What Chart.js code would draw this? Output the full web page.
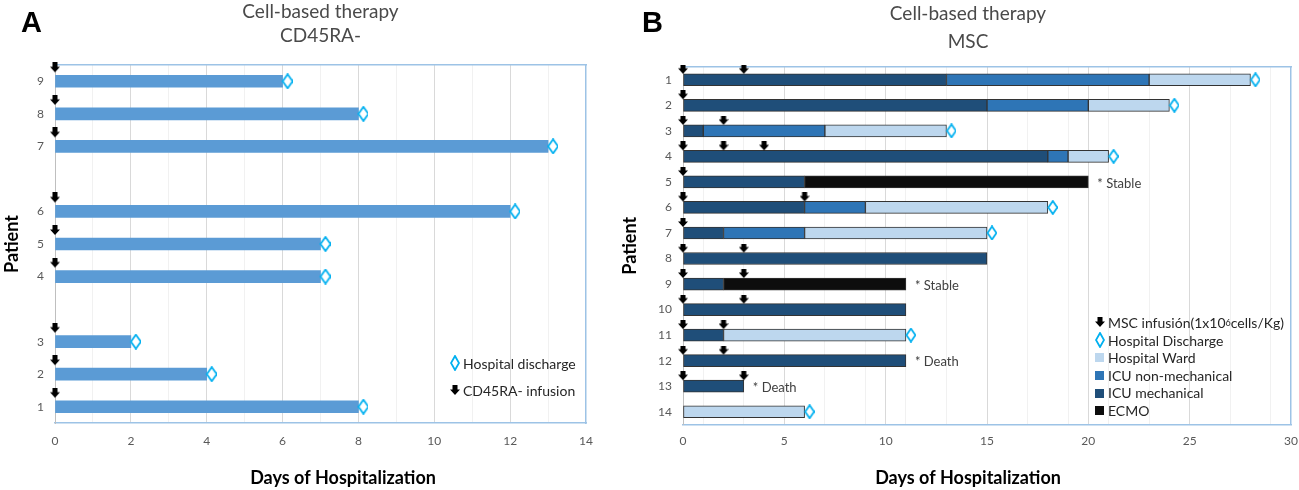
<!DOCTYPE html>
<html lang="en">
<head>
<meta charset="utf-8">
<title>Cell-based therapy · days of hospitalization</title>
<script src="https://cdn.jsdelivr.net/npm/chart.js@4.4.1/dist/chart.umd.min.js"></script>
<style>
  html, body { margin: 0; padding: 0; background: #fff; }
  #fig { position: relative; width: 1299px; height: 490px; overflow: hidden;
         font-family: Lato, 'Noto Sans', sans-serif; }
  #fig canvas { position: absolute; top: 0; }
  #chartA { left: 0; }
  #chartB { left: 615px; }
  .tag { position: absolute; top: 8px; font: bold 29px/29px 'Liberation Sans', Arial, sans-serif; color: #000; }
  .legend { position: absolute; font-size: 14px; color: #262626; }
  .legend .row { display: flex; align-items: center; white-space: nowrap; }
  .legend .mk { width: 13px; flex: none; display: flex; align-items: center; }
  .legend sup { font-size: 9px; line-height: 0; vertical-align: 5px; }
  .sq { display: inline-block; width: 9px; height: 9px; }
</style>
</head>
<body>
<div id="fig">
  <canvas id="chartA" width="686" height="490"></canvas>
  <canvas id="chartB" width="706" height="490"></canvas>

  <div class="tag" style="left:21px">A</div>
  <div class="tag" style="left:642px">B</div>

  <div class="legend" style="left:450px; top:354px">
    <div class="row" style="height:18px">
      <span class="mk"><svg width="10" height="16"><path d="M5 1L9 8L5 15L1 8Z" fill="#fff" stroke="#00B0F0" stroke-width="1.8"/></svg></span>Hospital discharge
    </div>
    <div class="row" style="height:18px; margin-top:9px">
      <span class="mk"><svg width="10" height="11"><path d="M2.5 0H7.5V4.5H10L5 10L0 4.5H2.5Z" fill="#000"/></svg></span>CD45RA- infusion
    </div>
  </div>

  <div class="legend" style="left:1095px; top:314px; line-height:17.6px">
    <div class="row" style="height:17.6px">
      <span class="mk"><svg width="10" height="11"><path d="M2.5 0H7.5V4.5H10L5 10L0 4.5H2.5Z" fill="#000"/></svg></span>MSC infusión(1x10<sup>6</sup>cells/Kg)
    </div>
    <div class="row" style="height:17.6px">
      <span class="mk"><svg width="10" height="16"><path d="M5 1L9 8L5 15L1 8Z" fill="#fff" stroke="#00B0F0" stroke-width="1.8"/></svg></span>Hospital Discharge
    </div>
    <div class="row" style="height:17.6px"><span class="mk"><span class="sq" style="background:#BDD7EE"></span></span>Hospital Ward</div>
    <div class="row" style="height:17.6px"><span class="mk"><span class="sq" style="background:#2E75B6"></span></span>ICU non-mechanical</div>
    <div class="row" style="height:17.6px"><span class="mk"><span class="sq" style="background:#1F4E79"></span></span>ICU mechanical</div>
    <div class="row" style="height:17.6px"><span class="mk"><span class="sq" style="background:#0D0D0D"></span></span>ECMO</div>
  </div>
</div>

<script>
  /* ---------- data: panel A (CD45RA-) ------------------------ */
  const A_ROWS      = ['9', '8', '7', '', '6', '5', '4', '', '3', '2', '1'];
  const A_PATIENTS  = ['9', '8', '7', '6', '5', '4', '3', '2', '1'];
  const A_STAY      = [6, 8, 13, 12, 7, 7, 2, 4, 8];
  const A_INFUSION  = [0, 0, 0, 0, 0, 0, 0, 0, 0];
  const A_DISCHARGE = [6, 8, 13, 12, 7, 7, 2, 4, 8];
  const A_X_LABELS  = [0, 2, 4, 6, 8, 10, 12, 14];

  /* ---------- data: panel B (MSC) ---------------------------- */
  const B_PATIENTS    = ['1', '2', '3', '4', '5', '6', '7', '8', '9', '10', '11', '12', '13', '14'];
  const B_ICU_MECH    = [13, 15, 1, 18, 6, 6, 2, 15, 2, 11, 2, 11, 3, null];
  const B_ICU_NONMECH = [10, 5, 6, 1, null, 3, 4, null, null, null, null, null, null, null];
  const B_WARD        = [5, 4, 6, 2, null, 9, 9, null, null, null, 9, null, null, 6];
  const B_ECMO        = [null, null, null, null, 14, null, null, null, 9, null, null, null, null, null];
  const B_INFUSIONS   = [[0, 3], [0], [0, 2], [0, 2, 4], [0], [0, 6], [0], [0, 3], [0, 3], [0, 3], [0, 2], [0, 2], [0, 3], []];
  const B_DISCHARGE   = [28, 24, 13, 21, null, 18, 15, null, null, null, 11, null, null, 6];
  const B_OUTCOME     = [null, null, null, null, '* Stable', null, null, null, '* Stable', null, null, '* Death', '* Death', null];
  const B_X_LABELS    = [0, 5, 10, 15, 20, 25, 30];

  /* ---------- palette ---------------------------------------- */
  const INK        = '#000000';
  const CYAN       = '#00B0F0';
  const BAR_A      = '#5B9BD5';
  const MECH       = '#1F4E79';
  const NONMECH    = '#2E75B6';
  const WARD       = '#BDD7EE';
  const ECMO       = '#0D0D0D';
  const FRAME      = '#9DC3E6';
  const AXIS       = '#BFBFBF';
  const GRID       = '#D9D9D9';
  const GRID_MINOR = '#F1F1F1';
  const TEXT       = '#595959';
  const TITLE      = '#4A4A4A';
  const NONE       = 'rgba(0,0,0,0)';

  Chart.defaults.font.family = "Lato, 'Noto Sans', sans-serif";
  Chart.defaults.color = TEXT;

  /* ---------- marker images ---------------------------------- */
  // down arrow sitting above the bar: tip ends `tip` px below image top
  function arrowImage(height, tip) {
    const c = document.createElement('canvas');
    c.width = 10; c.height = height;
    const g = c.getContext('2d');
    g.fillStyle = INK;
    g.beginPath();
    g.moveTo(2.5, 0); g.lineTo(7.5, 0); g.lineTo(7.5, tip - 5.5); g.lineTo(10, tip - 5.5);
    g.lineTo(5, tip); g.lineTo(0, tip - 5.5); g.lineTo(2.5, tip - 5.5);
    g.closePath(); g.fill();
    return c;
  }
  // hollow tall diamond just to the right of the bar end
  function diamondImage(w, h) {
    const c = document.createElement('canvas');
    c.width = 20; c.height = h + 2;
    const g = c.getContext('2d');
    const cx = 15, cy = (h + 2) / 2;
    g.fillStyle = '#fff';
    g.strokeStyle = CYAN;
    g.lineWidth = 1.8;
    g.beginPath();
    g.moveTo(cx, cy - h / 2); g.lineTo(cx + w / 2, cy); g.lineTo(cx, cy + h / 2); g.lineTo(cx - w / 2, cy);
    g.closePath(); g.fill(); g.stroke();
    return c;
  }

  const fixedWidth  = (px) => (s) => { s.width = px; };
  const fixedHeight = (px) => (s) => { s.height = px; };

  function gridColor(max, major) {
    return (c) => {
      const v = c.tick.value;
      if (v === 0 || v === max) return NONE;
      if (v % major === 0) return GRID;
      if (v % 2 === 1) return GRID_MINOR;
      return NONE;
    };
  }

  function frameScales(opts) {
    return {
      x: {
        type: 'linear', min: 0, max: opts.max, offset: false, stacked: opts.stacked,
        ticks: {
          stepSize: 1, maxTicksLimit: 50, autoSkip: false, maxRotation: 0,
          padding: opts.xTickPad, color: TEXT, font: { size: 12 },
          callback: (v) => opts.labels.includes(v) ? v : '',
        },
        grid: { offset: false, drawTicks: false, color: gridColor(opts.max, opts.major) },
        border: { color: FRAME, width: 1.5 },
        afterFit: fixedHeight(30),
      },
      x2: {
        type: 'linear', position: 'top',
        ticks: { display: false },
        grid: { drawOnChartArea: false, drawTicks: false },
        border: { color: FRAME, width: 1.5 },
        afterFit: fixedHeight(2),
      },
      x3: {
        type: 'linear', position: 'bottom', fullSize: true, weight: 1,
        ticks: { display: false },
        grid: { display: false },
        border: { display: false },
        title: {
          display: true, text: 'Days of Hospitalization', color: INK,
          font: { size: 18, weight: 'bold' }, padding: { top: 0, bottom: 1.2 },
        },
        afterFit: fixedHeight(opts.titleBox),
      },
      y: {
        type: 'category', offset: true,
        ticks: { autoSkip: false, padding: 11, color: TEXT, font: { size: 12 } },
        grid: { offset: true, drawTicks: false, color: NONE },
        border: { color: AXIS, width: 1 },
        title: {
          display: true, text: 'Patient', color: INK,
          font: { size: 18, weight: 'bold' }, padding: { top: opts.yTitlePad, bottom: 0 },
        },
        afterFit: fixedWidth(opts.left),
      },
      y2: {
        type: 'linear', position: 'right',
        ticks: { display: false },
        grid: { drawOnChartArea: false, drawTicks: false },
        border: { color: FRAME, width: 1.5 },
        afterFit: fixedWidth(opts.right),
      },
    };
  }

  function titles(main, sub, fullSize, pads) {
    return {
      title: {
        display: true, text: main, fullSize, color: TITLE,
        font: { size: 19, weight: 'normal' }, padding: { top: pads[0], bottom: 0 },
      },
      subtitle: {
        display: true, text: sub, fullSize, color: TITLE,
        font: { size: 19, weight: 'normal' }, padding: { top: pads[1], bottom: pads[2] },
      },
      legend: { display: false },
      tooltip: { enabled: false },
    };
  }

  function markerSet(points, img) {
    return {
      type: 'scatter', indexAxis: 'x', xAxisID: 'x', yAxisID: 'y',
      data: points, pointStyle: img, pointRadius: 3, clip: false, order: -1,
    };
  }

  /* ---------- outcome notes (text after the bar end) --------- */
  const outcomeNotes = {
    id: 'outcomeNotes',
    afterDatasetsDraw(chart, args, opts) {
      const { ctx } = chart;
      const x = chart.scales.x, y = chart.scales.y;
      ctx.save();
      ctx.font = "13px Lato, 'Noto Sans', sans-serif";
      ctx.fillStyle = '#404040';
      ctx.textBaseline = 'middle';
      (opts.items || []).forEach((n) => {
        const row = y.getLabels().indexOf(n.patient);
        ctx.fillText(n.text, x.getPixelForValue(n.day) + 9, y.getPixelForValue(row) + 1.5);
      });
      ctx.restore();
    },
  };

  /* ---------- panel A ---------------------------------------- */
  const aBars = A_ROWS.map((r) => {
    const i = A_PATIENTS.indexOf(r);
    return i < 0 ? null : A_STAY[i];
  });
  const aArrows = A_PATIENTS.map((p, i) => ({ x: A_INFUSION[i], y: p }));
  const aDiamonds = A_PATIENTS.map((p, i) => ({ x: A_DISCHARGE[i], y: p }));

  new Chart(document.getElementById('chartA'), {
    type: 'bar',
    data: {
      labels: A_ROWS,
      datasets: [
        markerSet(aArrows, arrowImage(38, 10)),
        markerSet(aDiamonds, diamondImage(10, 14)),
        {
          label: 'Days', data: aBars, xAxisID: 'x', yAxisID: 'y',
          backgroundColor: BAR_A, borderWidth: 0, barThickness: 12,
        },
      ],
    },
    options: {
      indexAxis: 'y',
      responsive: false,
      animation: false,
      events: [],
      layout: { padding: 0 },
      plugins: titles('Cell-based therapy', 'CD45RA-', false, [0, 1.8, 15.6]),
      scales: frameScales({
        max: 14, major: 2, labels: A_X_LABELS, stacked: false,
        xTickPad: 10.8, titleBox: 37, left: 55, right: 100, yTitlePad: 1,
      }),
    },
  });

  /* ---------- panel B ---------------------------------------- */
  const bArrows = B_INFUSIONS.flatMap((days, i) => days.map((d) => ({ x: d, y: B_PATIENTS[i] })));
  const bDiamonds = B_DISCHARGE
    .map((d, i) => (d == null ? null : { x: d, y: B_PATIENTS[i] }))
    .filter(Boolean);
  const bNotes = B_OUTCOME
    .map((t, i) => (t == null ? null : {
      patient: B_PATIENTS[i],
      text: t,
      day: [B_ICU_MECH, B_ICU_NONMECH, B_WARD, B_ECMO].reduce((s, arr) => s + (arr[i] || 0), 0),
    }))
    .filter(Boolean);

  const segment = (label, data, color) => ({
    label, data, xAxisID: 'x', yAxisID: 'y', stack: 'stay',
    backgroundColor: color, borderColor: '#333333', borderWidth: 1,
    borderSkipped: false, barThickness: 12,
  });

  new Chart(document.getElementById('chartB'), {
    type: 'bar',
    data: {
      labels: B_PATIENTS,
      datasets: [
        markerSet(bArrows, arrowImage(30, 9)),
        markerSet(bDiamonds, diamondImage(9, 13)),
        segment('ICU mechanical', B_ICU_MECH, MECH),
        segment('ICU non-mechanical', B_ICU_NONMECH, NONMECH),
        segment('Hospital Ward', B_WARD, WARD),
        segment('ECMO', B_ECMO, ECMO),
      ],
    },
    options: {
      indexAxis: 'y',
      responsive: false,
      animation: false,
      events: [],
      layout: { padding: 0 },
      plugins: {
        ...titles('Cell-based therapy', 'MSC', true, [2.6, 5.2, 11.6]),
        outcomeNotes: { items: bNotes },
      },
      scales: frameScales({
        max: 30, major: 5, labels: B_X_LABELS, stacked: true,
        xTickPad: 9.8, titleBox: 35.5, left: 68, right: 30, yTitlePad: 4,
      }),
    },
    plugins: [outcomeNotes],
  });
</script>
</body>
</html>
